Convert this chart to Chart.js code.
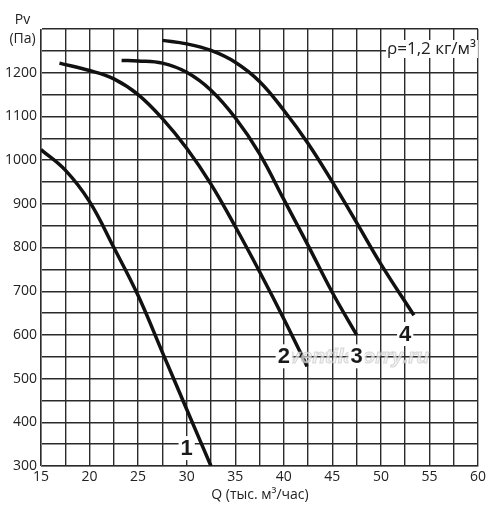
<!DOCTYPE html>
<html><head><meta charset="utf-8">
<script src="https://cdn.jsdelivr.net/npm/chart.js@4.4.1/dist/chart.umd.min.js"></script>
<style>html,body{margin:0;padding:0;background:#fff}#wrap{width:500px;height:518px;position:relative}</style>
</head><body><div id="wrap"><canvas id="c"></canvas></div>
<script>
// Data (Q in тыс. м³/час, Pv in Па)
const curve1Q = [15, 17.5, 20, 22.5, 25, 27.5, 30, 32.5];
const curve1P = [1024, 977, 905, 800, 690, 560, 430, 300];
const curve2Q = [16.9, 20, 22.5, 25, 27.5, 30, 32.5, 35, 37.5, 40, 42.4];
const curve2P = [1222, 1205, 1186, 1150, 1095, 1027, 945, 848, 745, 637, 528];
const curve3Q = [23.3, 25, 27.5, 30, 32.5, 35, 37.5, 40, 42.5, 45, 47.5];
const curve3P = [1228, 1227, 1222, 1201, 1160, 1097, 1015, 910, 805, 697, 600];
const curve4Q = [27.5, 30, 32.5, 35, 37.5, 40, 42.5, 45, 47.5, 50, 53.4];
const curve4P = [1274, 1266, 1251, 1224, 1180, 1114, 1038, 950, 857, 762, 645];
const curveNames = ['1', '2', '3', '4'];
const nameQ = [30, 40, 47.5, 52.5];
const nameP = [341, 551, 551, 602];
const xMin = 15, xMax = 60, xStep = 2.5;
const yMin = 300, yMax = 1300, yStep = 50;
const yTitle = ['Pv', '(Па)'];
const xTitle = 'Q (тыс. м³/час)';
const densityNote = 'ρ=1,2 кг/м³';
const watermark = 'ventilatorry.ru';

const toPts = (q, p) => q.map((v, i) => ({x: v, y: p[i]}));
const FONT = '"Open Sans", "Liberation Sans", Arial, sans-serif';
const TXT = '#222';

const mkSet = (q, p) => ({
  data: toPts(q, p), borderColor: '#111', borderWidth: 3.5, pointRadius: 0,
  fill: false, tension: 0.4, borderCapStyle: 'butt'
});

const textPlugin = {
  id: 'texts',
  afterDatasetsDraw(chart) {
    const ctx = chart.ctx, xs = chart.scales.x, ys = chart.scales.y;
    ctx.save();
    // watermark
    ctx.font = 'italic bold 21px "Liberation Sans", Arial, sans-serif';
    ctx.textAlign = 'center'; ctx.textBaseline = 'middle';
    ctx.fillStyle = 'rgba(240,240,240,0.7)';
    ctx.strokeStyle = 'rgba(180,180,180,0.5)';
    ctx.lineWidth = 1;
    ctx.fillText(watermark, 359, 357);
    ctx.strokeText(watermark, 359, 357);
    // curve numbers
    ctx.font = 'bold 22px "Liberation Sans", Arial, sans-serif';
    curveNames.forEach((n, i) => {
      const px = xs.getPixelForValue(nameQ[i]);
      const py = ys.getPixelForValue(nameP[i]);
      const w = ctx.measureText(n).width;
      ctx.fillStyle = '#fff';
      ctx.fillRect(px - w / 2 - 2, py - 12, w + 4, 24);
      ctx.fillStyle = '#1a1a1a';
      ctx.fillText(n, px, py + 1);
    });
    // density note
    ctx.font = '17px ' + FONT;
    ctx.textAlign = 'left'; ctx.textBaseline = 'middle';
    const tw = ctx.measureText(densityNote).width;
    ctx.fillStyle = '#fff';
    ctx.fillRect(386, 40, tw + 3, 18);
    ctx.fillStyle = TXT;
    ctx.fillText(densityNote, 387, 49);
    ctx.restore();
  },
  afterDraw(chart) {
    const ctx = chart.ctx;
    ctx.save();
    ctx.fillStyle = TXT;
    ctx.font = '14px ' + FONT;
    ctx.textAlign = 'center'; ctx.textBaseline = 'middle';
    ctx.fillText(yTitle[0], 22.5, 20);
    ctx.fillText(yTitle[1], 22.5, 39);
    ctx.fillText(xTitle, 260, 495);
    ctx.restore();
  }
};

new Chart(document.getElementById('c'), {
  type: 'line',
  data: { datasets: [mkSet(curve1Q, curve1P), mkSet(curve2Q, curve2P), mkSet(curve3Q, curve3P), mkSet(curve4Q, curve4P)] },
  options: {
    responsive: true, maintainAspectRatio: false, animation: false,
    layout: { padding: { top: 29, right: 22, left: 0, bottom: 0 } },
    plugins: { legend: { display: false }, tooltip: { enabled: false } },
    scales: {
      x: {
        type: 'linear', min: xMin, max: xMax,
        afterFit: s => { s.height = 52; },
        border: { color: '#777', width: 1 },
        grid: { color: '#2b2b2b', lineWidth: 1.4, drawTicks: false },
        ticks: {
          stepSize: xStep, padding: 3, color: TXT, maxRotation: 0, autoSkip: false,
          font: { family: FONT, size: 14 },
          callback: v => (v % 5 === 0 ? String(v) : '')
        }
      },
      y: {
        min: yMin, max: yMax,
        afterFit: s => { s.width = 41; },
        border: { color: '#777', width: 1 },
        grid: { color: '#2b2b2b', lineWidth: 1.4, drawTicks: false },
        ticks: {
          stepSize: yStep, padding: 4, color: TXT, autoSkip: false,
          font: { family: FONT, size: 14 },
          callback: v => (v % 100 === 0 && v < yMax ? String(v) : '')
        }
      }
    }
  },
  plugins: [textPlugin]
});
</script></body></html>
